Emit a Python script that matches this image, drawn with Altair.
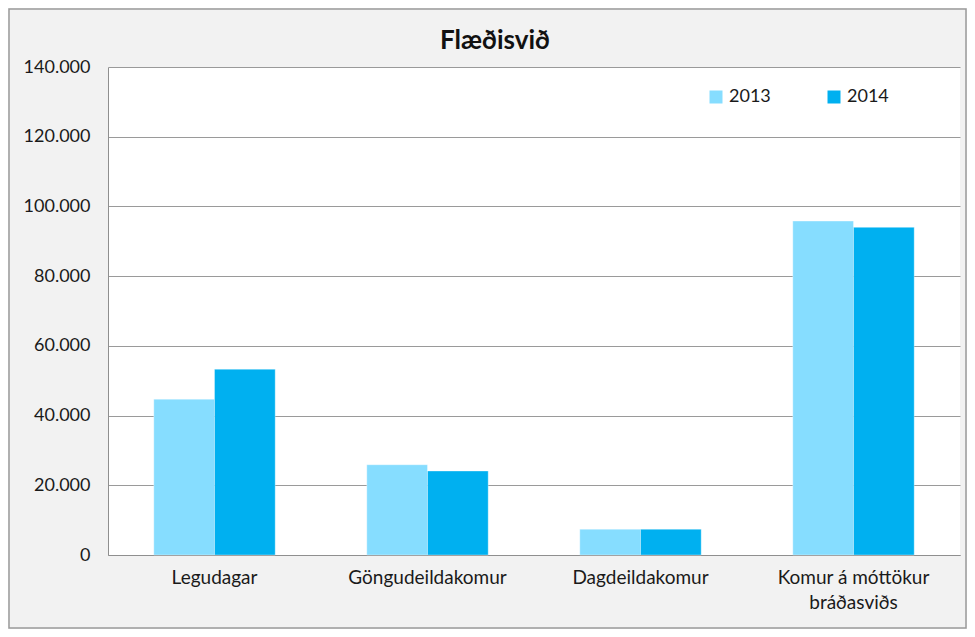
import altair as alt
import pandas as pd

categories = ["Legudagar", "Göngudeildakomur", "Dagdeildakomur", "Komur á móttökur\nbráðasviðs"]
values_2013 = [44700, 25900, 7400, 95800]
values_2014 = [53300, 24100, 7400, 94000]
years = ["2013", "2014"]
colors = ["#86DDFF", "#00B0F0"]
y_ticks = [0, 20000, 40000, 60000, 80000, 100000, 120000, 140000]
title_text = ["Flæðisvið"]

rows = []
for c, a, b in zip(categories, values_2013, values_2014):
    rows.append({"cat": c, "year": "2013", "value": a})
    rows.append({"cat": c, "year": "2014", "value": b})
df = pd.DataFrame(rows)

FONT = "Lato"
W, H = 852, 488
PL, PT, PR, PB = 100, 59, 7, 74

bars = alt.Chart(df).mark_bar(stroke="#ffffff", strokeOpacity=0.35, strokeWidth=1).encode(
    x=alt.X("cat:N", sort=categories, title=None,
            scale=alt.Scale(paddingInner=0.43, paddingOuter=0.215),
            axis=alt.Axis(labelExpr="split(datum.label, '\\n')", labelAngle=0,
                          labelFontSize=19, labelPadding=13, labelLineHeight=25,
                          ticks=False, domainColor="#8f8f8f", labelColor="#1a1a1a",
                          labelFont=FONT, labelLimit=300)),
    xOffset=alt.XOffset("year:N", sort=years, scale=alt.Scale(paddingInner=0, paddingOuter=0)),
    y=alt.Y("value:Q", title=None,
            scale=alt.Scale(domain=[0, 140000], nice=False),
            axis=alt.Axis(values=y_ticks,
                          labelExpr="replace(format(datum.value, ','), ',', '.')",
                          labelFontSize=18, labelPadding=18, ticks=False,
                          domainColor="#8f8f8f", gridColor="#9a9a9a", labelColor="#1a1a1a",
                          labelFont=FONT)),
    color=alt.Color("year:N", sort=years, scale=alt.Scale(domain=years, range=colors),
                    legend=alt.Legend(title=None, orient="none", legendX=599, legendY=21,
                                      direction="horizontal", symbolType="square",
                                      symbolSize=169, symbolStrokeWidth=0,
                                      labelFontSize=18, labelFont=FONT, labelColor="#1a1a1a",
                                      labelOffset=4, columnPadding=54, padding=0)),
)

frame_df = pd.DataFrame({"k": [0]})
frame = alt.Chart(frame_df).mark_rect(fill=None, stroke="#9a9a9a", strokeWidth=1.5).encode(
    x=alt.value(-PL + 1), x2=alt.value(W + PR - 1),
    y=alt.value(-PT + 1), y2=alt.value(H + PB - 1),
)

title = alt.Chart(pd.DataFrame({"t": title_text})).mark_text(
    font=FONT, fontSize=26, fontWeight="bold", color="#111111",
    align="center", baseline="alphabetic"
).encode(text="t:N", x=alt.value(387), y=alt.value(-18))

chart = alt.layer(frame, bars, title).properties(
    width=W, height=H,
    autosize=alt.AutoSizeParams(type="none"),
    padding={"left": PL, "top": PT, "right": PR, "bottom": PB},
).configure(background="#f2f2f2").configure_view(fill="#ffffff", stroke=None)

chart.save("out.html", embed_options={"renderer": "svg", "actions": False})
